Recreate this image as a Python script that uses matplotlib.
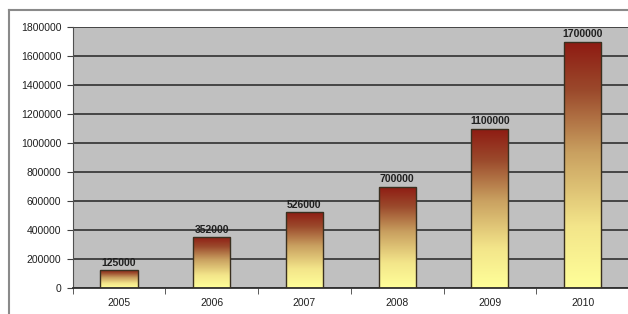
import numpy as np
import matplotlib
matplotlib.use("Agg")
from matplotlib import pyplot as plt
from matplotlib.colors import LinearSegmentedColormap
from matplotlib.lines import Line2D

years = ["2005", "2006", "2007", "2008", "2009", "2010"]
values = [125000, 352000, 526000, 700000, 1100000, 1700000]
yticks = [0, 200000, 400000, 600000, 800000, 1000000, 1200000, 1400000, 1600000, 1800000]

plt.rcParams["font.family"] = ["Liberation Sans", "DejaVu Sans"]

fig = plt.figure(figsize=(6.28, 3.14), dpi=100)
fig.patch.set_facecolor("white")
ax = fig.add_axes([0.1156, 0.0828, 0.886, 0.831])
ax.set_facecolor("#c0c0c0")

# outer chart frame (bottom/right cut off in the original)
fig.add_artist(Line2D([0.0143, 0.0143], [0, 0.968], transform=fig.transFigure, color="#8a8a8a", lw=1.5))
fig.add_artist(Line2D([0.0143, 1], [0.968, 0.968], transform=fig.transFigure, color="#8a8a8a", lw=1.5))

x = np.arange(len(years))
bars = ax.bar(x, values, width=0.4, color="none", edgecolor="#3a3020", linewidth=1.0, zorder=3)

# vertical gradient: dark red at top, pale yellow at bottom
cmap = LinearSegmentedColormap.from_list("bar", [
    (0.0, "#ffff99"), (0.25, "#f3e58a"), (0.55, "#c9a060"), (0.8, "#9b4a2c"), (1.0, "#8e1a12")])
grad = np.linspace(0, 1, 256).reshape(-1, 1)
for b in bars:
    x0, w, h = b.get_x(), b.get_width(), b.get_height()
    im = ax.imshow(grad, cmap=cmap, origin="lower", aspect="auto",
                   extent=(x0, x0 + w, 0, h), zorder=2)
    im.set_clip_path(b)

for xi, v in zip(x, values):
    ax.text(xi, v + 15000, str(v), ha="center", va="bottom", fontsize=7.5,
            fontweight="bold", color="#202020", zorder=4)

ax.set_xlim(-0.5, len(years) - 0.5)
ax.set_ylim(0, 1800000)
ax.set_yticks(yticks)
ax.set_yticklabels([str(t) for t in yticks], fontsize=7.5, color="#202020")
ax.set_xticks(x)
ax.set_xticklabels(years, fontsize=7.5, color="#202020")
ax.set_xticks(np.arange(len(years) + 1) - 0.5, minor=True)
ax.tick_params(axis="x", which="major", length=0, pad=7)
ax.tick_params(axis="x", which="minor", length=4, color="#404040", direction="out")
ax.tick_params(axis="y", length=4, color="#404040", pad=4)

ax.grid(axis="y", color="#3c3c3c", linewidth=1.3, zorder=1)
ax.set_axisbelow(True)
for s in ["top", "right"]:
    ax.spines[s].set_visible(False)
ax.spines["left"].set_color("#505050")
ax.spines["bottom"].set_color("#303030")
ax.spines["bottom"].set_linewidth(1.3)

fig.savefig("out.png", dpi=100)
